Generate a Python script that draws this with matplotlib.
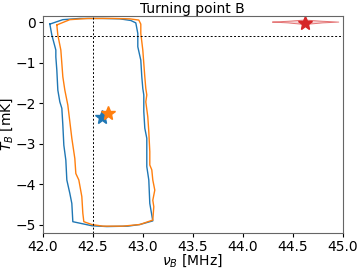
import matplotlib
matplotlib.use("Agg")
from matplotlib import pyplot as plt

# contour of model 1 (blue)
blue_x = [42.07, 42.20, 42.37, 42.60, 42.77, 42.88, 42.93, 42.95, 42.95, 42.98, 42.99, 43.00,
          43.01, 43.01, 43.02, 43.04, 43.04, 43.04, 43.06, 43.07, 43.10, 42.97, 42.85, 42.64,
          42.49, 42.30, 42.29, 42.27, 42.24, 42.23, 42.21, 42.20, 42.19, 42.17, 42.15, 42.14,
          42.13, 42.13, 42.09, 42.07]
blue_y = [-0.05, 0.06, 0.09, 0.09, 0.08, 0.04, -0.02, -0.28, -0.61, -0.94, -1.35, -1.64,
          -1.80, -2.21, -2.62, -2.87, -3.45, -3.57, -3.90, -4.48, -4.91, -5.00, -5.04, -5.05,
          -5.03, -4.93, -4.48, -4.23, -3.90, -3.41, -3.04, -2.54, -2.13, -1.97, -1.68, -1.19,
          -0.86, -0.69, -0.32, -0.05]

# contour of model 2 (orange)
orange_x = [42.14, 42.27, 42.45, 42.70, 42.87, 42.96, 42.98, 42.98, 43.00, 43.01, 43.02, 43.03,
            43.04, 43.03, 43.05, 43.06, 43.07, 43.07, 43.09, 43.10, 43.12, 43.10, 43.11, 43.10,
            42.97, 42.80, 42.60, 42.49, 42.41, 42.40, 42.39, 42.36, 42.33, 42.32, 42.29, 42.27,
            42.25, 42.22, 42.20, 42.19, 42.18, 42.15, 42.14]
orange_y = [-0.07, 0.06, 0.09, 0.09, 0.08, 0.05, -0.05, -0.28, -0.69, -1.02, -1.35, -1.64,
            -1.80, -1.97, -2.34, -2.71, -3.20, -3.53, -3.65, -3.90, -4.15, -4.40, -4.56, -4.89,
            -5.00, -5.04, -5.04, -5.00, -4.93, -4.72, -4.31, -3.90, -3.74, -3.37, -2.87, -2.46,
            -2.05, -1.68, -1.35, -1.02, -0.69, -0.32, -0.07]

# thin red contour
red_x = [44.30, 44.45, 44.62, 44.80, 44.96, 44.80, 44.62, 44.45, 44.30]
red_y = [0.00, 0.02, 0.05, 0.02, 0.00, -0.02, -0.06, -0.02, 0.00]

# best-fit stars
star_x = [42.59, 42.65, 44.62]
star_y = [-2.34, -2.25, -0.02]
star_colors = ["#1f77b4", "#ff7f0e", "#d62728"]

# true turning point
nu_true = 42.5
t_true = -0.35

fig = plt.figure(figsize=(3.57, 2.68), dpi=100)
ax = fig.add_axes([0.120, 0.132, 0.840, 0.809])

ax.plot(blue_x, blue_y, color="#1f77b4", lw=1.0)
ax.plot(orange_x, orange_y, color="#ff7f0e", lw=1.0)
ax.fill(red_x, red_y, color="#d62728", alpha=0.2, lw=0)
ax.plot(red_x, red_y, color="#d62728", lw=0.7, alpha=0.6)

ax.axvline(nu_true, color="k", ls="--", lw=0.7, dashes=(2, 2))
ax.axhline(t_true, color="k", ls="--", lw=0.7, dashes=(2, 2))

for sx, sy, c in zip(star_x, star_y, star_colors):
    ax.plot(sx, sy, marker="*", color=c, markersize=10, ls="none")

ax.set_xlim(42.0, 45.0)
ax.set_ylim(-5.2, 0.155)
ax.set_xticks([42.0, 42.5, 43.0, 43.5, 44.0, 44.5, 45.0])
ax.set_yticks([0, -1, -2, -3, -4, -5])
ax.tick_params(labelsize=10, length=3, pad=2)
for s in ax.spines.values():
    s.set_color("#666666")

ax.set_title("Turning point B", fontsize=10, pad=2)
ax.set_xlabel(r"$\nu_B$ [MHz]", fontsize=10, labelpad=-1)
ax.set_ylabel(r"$T_B$ [mK]", fontsize=10, labelpad=0)

plt.savefig("out.png", dpi=100)
